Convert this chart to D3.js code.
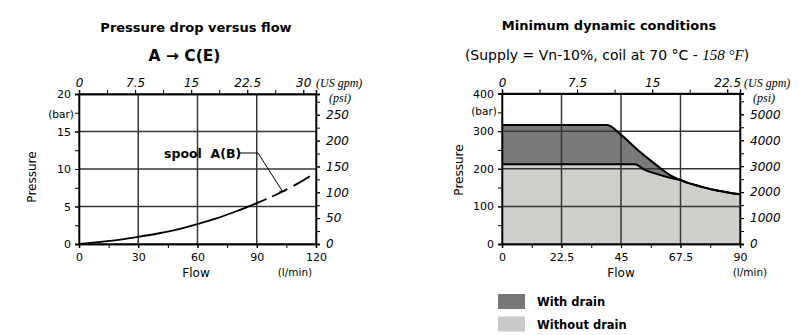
<!DOCTYPE html>
<html><head><meta charset="utf-8">
<script src="https://cdn.jsdelivr.net/npm/d3@7/dist/d3.min.js"></script>
<style>
body{margin:0;background:#fff;}
svg{display:block;}
text{font-family:"DejaVu Sans",Verdana,sans-serif;fill:#000;}
.it{font-family:"Liberation Serif","Times New Roman",serif;font-style:italic;}
</style></head>
<body>
<svg id="c" width="803" height="335"></svg>
<script>
// ---------- DATA ----------
// Left chart: pressure drop vs flow (spool A(B))
const leftFlow     = [0, 10, 20, 30, 40, 50, 60, 70, 80, 90, 95];
const leftPressure = [0, 0.25, 0.55, 0.95, 1.4, 1.95, 2.65, 3.45, 4.4, 5.45, 6.0];
const leftFlowDash     = [95, 100, 110, 120];
const leftPressureDash = [6.0, 6.6, 7.95, 9.55];
const leftXTicks   = [0, 30, 60, 90, 120];
const leftYTicks   = [0, 5, 10, 15, 20];
const leftGpmTicks = [0, 7.5, 15, 22.5, 30];
const leftPsiTicks = [0, 50, 100, 150, 200, 250];

// Right chart: minimum dynamic conditions
const withDrainFlow     = [0, 39.7, 45, 52, 56, 60, 63.5, 67.5, 70, 75, 80, 85, 90];
const withDrainP        = [316, 316, 290, 246, 223, 201, 183, 170, 163, 153, 144, 137.5, 132];
const withoutDrainFlow  = [0, 50.2, 54, 59.6, 63.5, 67.5, 70, 75, 80, 85, 90];
const withoutDrainP     = [212, 212, 197, 184, 176, 170, 163, 153, 144, 137.5, 132];
const rightXTicks   = [0, 22.5, 45, 67.5, 90];
const rightYTicks   = [0, 100, 200, 300, 400];
const rightGpmTicks = [0, 7.5, 15, 22.5];
const rightPsiTicks = [0, 1000, 2000, 3000, 4000, 5000];
const legendLabels  = ["With drain", "Without drain"];

const GPM = 3.785, PSI = 14.5038;
const svg = d3.select("#c");

function drawFrame(g, x, y, xT, xMinorStep, yT, yMinorStep, gpmT, psiT, psiMinorStep, gpmOff) {
  const [x0, x1] = x.range(), [y0, y1] = y.range();
  const xMax = x.domain()[1], yMax = y.domain()[1];
  const gpm = d3.scaleLinear().domain([0, xMax / GPM]).range(x.range());
  const psi = d3.scaleLinear().domain([0, yMax * PSI]).range(y.range());
  const style = (a, serif) => {
    a.select(".domain").attr("stroke", "#000").attr("stroke-width", 1.3);
    a.selectAll(".tick line").attr("stroke", "#000");
    a.selectAll(".tick text").attr("font-size", serif ? 12 : 11).attr("fill", "#000")
      .attr("font-family", serif ? "Liberation Serif, serif" : "DejaVu Sans, sans-serif")
      .attr("font-style", serif ? "italic" : "normal");
  };
  const minors = (max, step) => d3.range(0, max + 1e-9, step);
  g.append("g").attr("transform", `translate(0,${y0})`)
    .call(d3.axisBottom(x).tickValues(minors(xMax, xMinorStep)).tickSize(4).tickFormat("")).call(a => style(a));
  g.append("g").attr("transform", `translate(${x0},0)`)
    .call(d3.axisLeft(y).tickValues(minors(yMax, yMinorStep)).tickSize(4).tickFormat("")).call(a => style(a));
  g.append("g").attr("transform", `translate(0,${y1})`)
    .call(d3.axisTop(gpm).tickValues(minors(xMax / GPM, 3.75)).tickSize(4).tickFormat("")).call(a => style(a));
  g.append("g").attr("transform", `translate(${x1},0)`)
    .call(d3.axisRight(psi).tickValues(minors(yMax * PSI, psiMinorStep)).tickSize(4).tickFormat("")).call(a => style(a));
  g.append("g").attr("transform", `translate(0,${y0})`)
    .call(d3.axisBottom(x).tickValues(xT).tickSize(4).tickPadding(5).tickFormat(d => d)).call(a => style(a));
  g.append("g").attr("transform", `translate(${x0},0)`)
    .call(d3.axisLeft(y).tickValues(yT).tickSize(4).tickPadding(4).tickFormat(d => d)).call(a => style(a));
  g.append("g").attr("transform", `translate(0,${y1})`)
    .call(d3.axisTop(gpm).tickValues(gpmT).tickSize(4).tickPadding(3).tickFormat(d => d)).call(a => style(a, true));
  g.append("g").attr("transform", `translate(${x1},0)`)
    .call(d3.axisRight(psi).tickValues(psiT).tickSize(4).tickPadding(6).tickFormat(d => d)).call(a => style(a, true));
  g.append("text").attr("class", "it").attr("x", x1 + gpmOff).attr("y", y1 - 7)
    .attr("font-size", 12).text("(US gpm)");
  g.append("text").attr("class", "it").attr("x", x1 + 13).attr("y", y1 + 8)
    .attr("font-size", 12).text("(psi)");
}

function grid(g, x, y, xs, ys) {
  const [x0, x1] = x.range(), [y0, y1] = y.range();
  g.selectAll(null).data(xs).join("line")
    .attr("x1", d => x(d)).attr("x2", d => x(d)).attr("y1", y0).attr("y2", y1)
    .attr("stroke", "#363636").attr("stroke-width", 1.5);
  g.selectAll(null).data(ys).join("line")
    .attr("y1", d => y(d)).attr("y2", d => y(d)).attr("x1", x0).attr("x2", x1)
    .attr("stroke", "#363636").attr("stroke-width", 1.5);
}

// ---------- LEFT CHART ----------
{
  const g = svg.append("g");
  const x = d3.scaleLinear().domain([0, 120]).range([79, 316]);
  const y = d3.scaleLinear().domain([0, 20]).range([244, 94]);
  grid(g, x, y, leftXTicks, leftYTicks);
  drawFrame(g, x, y, leftXTicks, 15, leftYTicks, 2.5, leftGpmTicks, leftPsiTicks, 25, 0);

  const line = d3.line().x(d => x(d[0])).y(d => y(d[1])).curve(d3.curveMonotoneX);
  g.append("path").datum(d3.zip(leftFlow, leftPressure)).attr("d", line)
    .attr("fill", "none").attr("stroke", "#000").attr("stroke-width", 1.8);
  g.append("path").datum(d3.zip(leftFlowDash, leftPressureDash)).attr("d", line)
    .attr("fill", "none").attr("stroke", "#000").attr("stroke-width", 1.8)
    .attr("stroke-dasharray", "0,6,17,7,19,7");

  g.append("text").attr("x", 164).attr("y", 157.5).attr("font-size", 12.5).attr("font-weight", "bold")
    .attr("xml:space", "preserve").text("spool  A(B)");
  const lx = x(103), ly = y(6.9);
  g.append("path").attr("d", `M238,153 H258 L${lx},${ly - 1}`).attr("fill", "none").attr("stroke", "#000").attr("stroke-width", 1);
  g.append("line").attr("x1", lx - 3).attr("x2", lx + 3).attr("y1", ly - 1).attr("y2", ly - 1).attr("stroke", "#000");

  g.append("text").attr("x", 196).attr("y", 32).attr("text-anchor", "middle")
    .attr("font-size", 13).attr("font-weight", "bold").text("Pressure drop versus flow");
  g.append("text").attr("x", 184.5).attr("y", 61).attr("text-anchor", "middle")
    .attr("font-size", 15.5).attr("font-weight", "bold").text("A → C(E)");
  g.append("text").attr("transform", "translate(36,177) rotate(-90)").attr("text-anchor", "middle")
    .attr("font-size", 12).text("Pressure");
  g.append("text").attr("x", 61).attr("y", 118).attr("text-anchor", "middle").attr("font-size", 10.5).text("(bar)");
  g.append("text").attr("x", 196).attr("y", 277).attr("text-anchor", "middle").attr("font-size", 12).text("Flow");
  g.append("text").attr("x", 295).attr("y", 276).attr("text-anchor", "middle").attr("font-size", 10.5).text("(l/min)");
}

// ---------- RIGHT CHART ----------
{
  const g = svg.append("g");
  const x = d3.scaleLinear().domain([0, 90]).range([502, 740]);
  const y = d3.scaleLinear().domain([0, 400]).range([244, 93.5]);
  const area = d3.area().x(d => x(d[0])).y0(y(0)).y1(d => y(d[1])).curve(d3.curveMonotoneX);
  const line = d3.line().x(d => x(d[0])).y(d => y(d[1])).curve(d3.curveMonotoneX);
  const wd = d3.zip(withDrainFlow, withDrainP), wo = d3.zip(withoutDrainFlow, withoutDrainP);
  g.append("path").datum(wd).attr("d", area).attr("fill", "#7a7a7a");
  g.append("path").datum(wo).attr("d", area).attr("fill", "#d1cfcc");
  grid(g, x, y, rightXTicks, rightYTicks);
  g.append("path").datum(wd).attr("d", line).attr("fill", "none").attr("stroke", "#000").attr("stroke-width", 2);
  g.append("path").datum(wo).attr("d", line).attr("fill", "none").attr("stroke", "#000").attr("stroke-width", 2);
  drawFrame(g, x, y, rightXTicks, 11.25, rightYTicks, 50, rightGpmTicks, rightPsiTicks, 500, 4);

  g.append("text").attr("x", 609).attr("y", 30).attr("text-anchor", "middle")
    .attr("font-size", 13).attr("font-weight", "bold").text("Minimum dynamic conditions");
  const sub = g.append("text").attr("x", 607).attr("y", 60).attr("text-anchor", "middle").attr("font-size", 14);
  sub.append("tspan").text("(Supply = Vn-10%, coil at 70 °C - ");
  sub.append("tspan").attr("class", "it").attr("font-size", 15).text("158 °F");
  sub.append("tspan").text(")");
  g.append("text").attr("transform", "translate(463,170) rotate(-90)").attr("text-anchor", "middle")
    .attr("font-size", 12).text("Pressure");
  g.append("text").attr("x", 484).attr("y", 115).attr("text-anchor", "middle").attr("font-size", 10.5).text("(bar)");
  g.append("text").attr("x", 621).attr("y", 277).attr("text-anchor", "middle").attr("font-size", 12).text("Flow");
  g.append("text").attr("x", 750).attr("y", 276).attr("text-anchor", "middle").attr("font-size", 10.5).text("(l/min)");

  const leg = g.selectAll(".leg").data(legendLabels).join("g").attr("transform", (d, i) => `translate(498,${294 + i * 22.5})`);
  leg.append("rect").attr("width", 27).attr("height", 15).attr("fill", (d, i) => i ? "#c9c9c9" : "#777");
  leg.append("text").attr("x", 39).attr("y", 12).attr("font-size", 11.5).attr("font-weight", "bold").text(d => d);
}
</script>
</body></html>
